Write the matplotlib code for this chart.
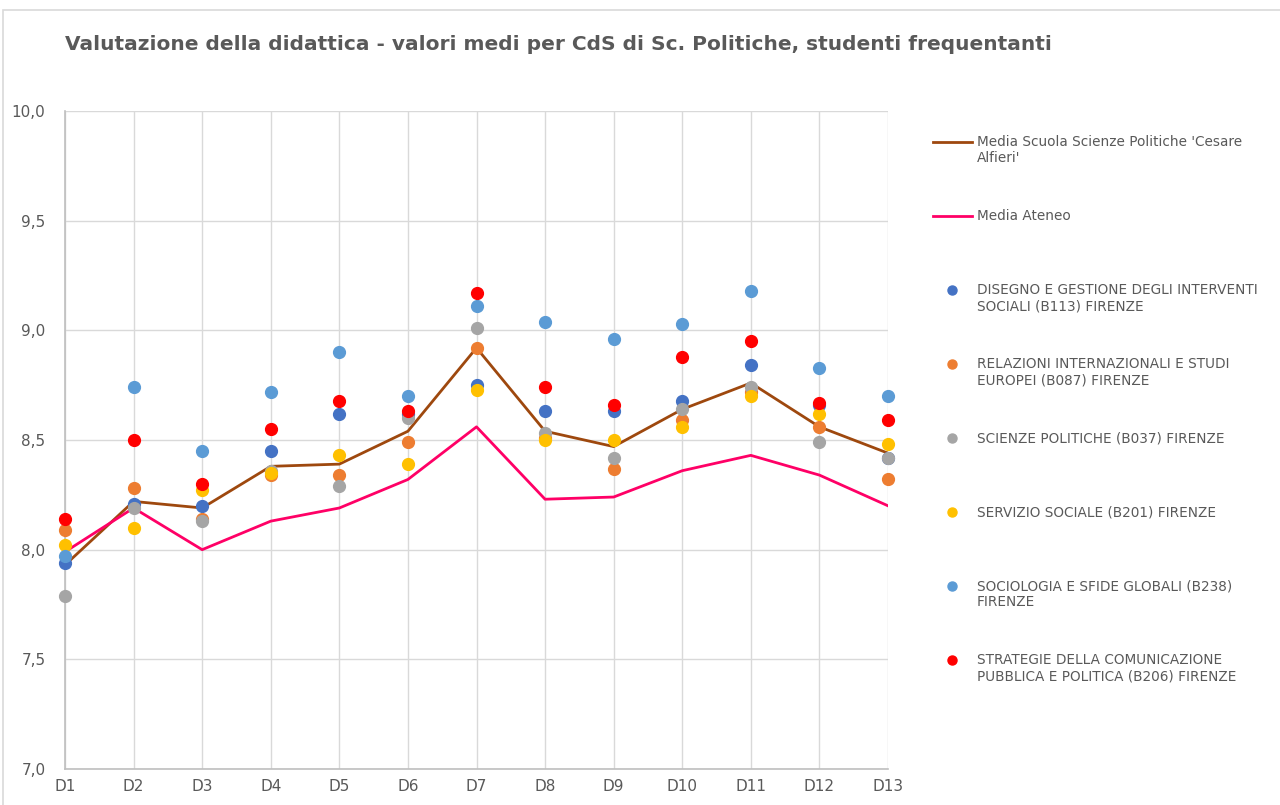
import matplotlib.pyplot as plt
from matplotlib.patches import Rectangle
from matplotlib.lines import Line2D

# categories
domande = ["D1", "D2", "D3", "D4", "D5", "D6", "D7", "D8", "D9", "D10", "D11", "D12", "D13"]

# average lines
media_scuola = [7.93, 8.22, 8.19, 8.38, 8.39, 8.54, 8.92, 8.54, 8.47, 8.64, 8.76, 8.56, 8.44]
media_ateneo = [7.99, 8.19, 8.00, 8.13, 8.19, 8.32, 8.56, 8.23, 8.24, 8.36, 8.43, 8.34, 8.20]

# single degree courses (CdS)
disegno = [7.94, 8.21, 8.20, 8.45, 8.62, 8.62, 8.75, 8.63, 8.63, 8.68, 8.84, 8.66, 8.42]
relazioni = [8.09, 8.28, 8.14, 8.34, 8.34, 8.49, 8.92, 8.51, 8.37, 8.59, 8.72, 8.56, 8.32]
scienze_pol = [7.79, 8.19, 8.13, 8.36, 8.29, 8.60, 9.01, 8.53, 8.42, 8.64, 8.74, 8.49, 8.42]
servizio = [8.02, 8.10, 8.27, 8.35, 8.43, 8.39, 8.73, 8.50, 8.50, 8.56, 8.70, 8.62, 8.48]
sociologia = [7.97, 8.74, 8.45, 8.72, 8.90, 8.70, 9.11, 9.04, 8.96, 9.03, 9.18, 8.83, 8.70]
strategie = [8.14, 8.50, 8.30, 8.55, 8.68, 8.63, 9.17, 8.74, 8.66, 8.88, 8.95, 8.67, 8.59]

linee = [
    ("Media Scuola Scienze Politiche 'Cesare\nAlfieri'", media_scuola, "#9E480E"),
    ("Media Ateneo", media_ateneo, "#FF0066"),
]
cds = [
    ("DISEGNO E GESTIONE DEGLI INTERVENTI\nSOCIALI (B113) FIRENZE", disegno, "#4472C4"),
    ("RELAZIONI INTERNAZIONALI E STUDI\nEUROPEI (B087) FIRENZE", relazioni, "#ED7D31"),
    ("SCIENZE POLITICHE (B037) FIRENZE", scienze_pol, "#A5A5A5"),
    ("SERVIZIO SOCIALE (B201) FIRENZE", servizio, "#FFC000"),
    ("SOCIOLOGIA E SFIDE GLOBALI (B238)\nFIRENZE", sociologia, "#5B9BD5"),
    ("STRATEGIE DELLA COMUNICAZIONE\nPUBBLICA E POLITICA (B206) FIRENZE", strategie, "#FF0000"),
]

testo = "#595959"
x = list(range(1, len(domande) + 1))
W, H = 1280, 805

fig = plt.figure(figsize=(12.8, 8.05), dpi=100)
fig.patches.append(Rectangle((0.0025, -0.01), 1.2, 0.998, transform=fig.transFigure,
                             fill=False, edgecolor="#D9D9D9", lw=1.2))
ax = fig.add_axes([65 / W, 1 - 769 / H, 823 / W, 658 / H])

for nome, valori, colore in linee:
    ax.plot(x, valori, color=colore, lw=2, zorder=3)
for nome, valori, colore in cds:
    ax.plot(x, valori, ls="none", marker="o", ms=8.5, color=colore, zorder=4, clip_on=False)

ax.set_xlim(1, 13)
ax.set_ylim(7, 10)
ax.set_xticks(x)
ax.set_xticklabels(domande)
yt = [7.0, 7.5, 8.0, 8.5, 9.0, 9.5, 10.0]
ax.set_yticks(yt)
ax.set_yticklabels([f"{v:.1f}".replace(".", ",") for v in yt])
ax.tick_params(length=0, labelsize=11, colors=testo)
ax.tick_params(axis="x", pad=7)
ax.tick_params(axis="y", pad=14)
ax.grid(True, color="#D9D9D9", lw=1)
ax.set_axisbelow(True)
for s in ["top", "right"]:
    ax.spines[s].set_visible(False)
for s in ["left", "bottom"]:
    ax.spines[s].set_color("#BFBFBF")
    ax.spines[s].set_linewidth(1.2)

fig.text(65 / W, 1 - 45 / H, "Valutazione della didattica - valori medi per CdS di Sc. Politiche, studenti frequentanti",
         fontsize=14.5, fontweight="bold", color=testo, va="center")

# legend, one slot every 74 px
for i, (nome, valori, colore) in enumerate(linee + cds):
    yf = 1 - (142 + 74 * i) / H
    if i < len(linee):
        fig.add_artist(Line2D([933 / W, 972 / W], [yf, yf], color=colore, lw=2, transform=fig.transFigure))
    else:
        fig.add_artist(Line2D([952 / W], [yf], marker="o", ms=6.5, color=colore, ls="none",
                              transform=fig.transFigure))
    fig.text(977 / W, yf + 7 / H, nome, fontsize=9.8, color=testo, va="top", linespacing=1.2)

fig.savefig("out.png", dpi=100)
